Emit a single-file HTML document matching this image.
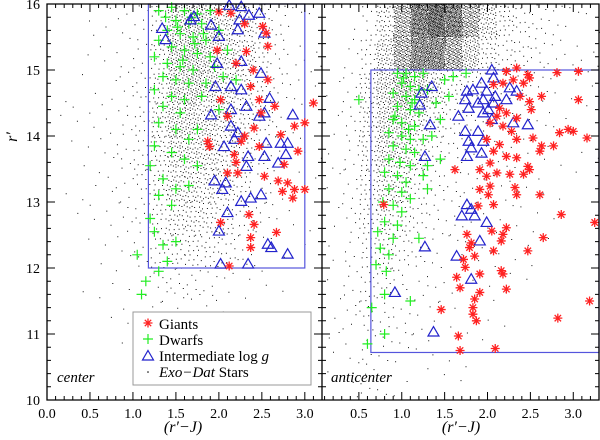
<!DOCTYPE html>
<html><head><meta charset="utf-8"><style>
html,body{margin:0;padding:0;background:#fff;}
svg{display:block;font-family:"Liberation Serif",serif;}
</style></head><body>
<svg id="chart" width="600" height="440" viewBox="0 0 600 440" xmlns="http://www.w3.org/2000/svg">
<g id="dots"></g>
<g id="boxes"></g>
<g id="dwarfs"></g>
<g id="inter"></g>
<g id="giants"></g>
<g id="axes"></g>
<text x="0" y="0" transform="translate(17,137) rotate(-90)" font-size="16" font-style="italic" text-anchor="middle">r′</text>
<text x="183" y="432" font-size="16" font-style="italic" text-anchor="middle">(r′−J)</text>
<text x="461" y="432" font-size="16" font-style="italic" text-anchor="middle">(r′−J)</text>
<text x="57" y="382" font-size="15" font-style="italic">center</text>
<text x="331" y="382" font-size="15" font-style="italic">anticenter</text>
<g>
<rect x="133" y="312" width="178" height="73" fill="#fff" stroke="#999" stroke-width="1"/>
<g><g id="lg"></g><text x="159" y="329" font-size="15">Giants</text></g>
<g><g id="ld"></g><text x="159" y="345" font-size="15">Dwarfs</text></g>
<g><g id="li"></g><text x="159" y="361" font-size="15">Intermediate log <tspan font-style="italic">g</tspan></text></g>
<g><circle cx="148" cy="372" r="0.8" fill="#000"/><text x="159" y="377" font-size="15"><tspan font-style="italic">Exo−Dat</tspan> Stars</text></g>
</g>
</svg>
<script>
// ---- data ----
const leftGiantsX=[2.00,2.14,2.51,2.55,2.57,2.32,1.98,2.57,2.37,2.47,2.02,3.10,2.65,2.49,3.00,2.88,2.41,2.72,1.87,1.89,2.26,2.47,2.92,2.18,2.76,2.10,2.22,2.53,2.69,2.80,2.88,3.00,2.74,2.86,2.35,2.41,2.02,2.67,2.37,2.37,2.12,2.30,2.20,2.40,2.10,2.30,2.20];
const leftGiantsY=[15.88,15.86,15.66,15.56,15.36,15.28,15.30,14.85,14.75,14.55,14.55,14.50,14.45,14.35,14.20,14.15,14.12,14.02,13.92,13.84,13.92,13.84,13.77,13.72,13.57,13.44,13.44,13.39,13.32,13.29,13.19,13.19,13.16,13.06,12.81,12.66,12.69,12.54,12.46,12.31,12.03,15.70,15.10,15.00,14.30,14.00,13.60];
const leftInterX=[1.34,1.38,1.71,1.67,1.91,2.00,2.24,2.22,2.12,2.26,2.47,2.35,2.53,1.98,2.26,2.49,1.96,2.14,2.26,1.91,2.14,2.32,2.47,2.53,2.86,2.59,2.14,2.22,2.18,2.55,2.72,2.80,2.78,2.06,2.34,2.53,2.69,2.32,1.95,2.08,2.04,2.26,2.37,2.49,2.10,2.00,2.57,2.61,2.80,2.02,2.34];
const leftInterY=[15.63,15.46,15.81,15.76,15.68,15.51,15.76,15.61,15.98,15.96,15.86,15.83,15.56,15.10,15.13,14.95,14.75,14.75,14.70,14.32,14.40,14.45,14.30,14.35,14.32,14.57,14.15,14.05,13.95,13.89,13.89,13.89,13.72,13.84,13.69,13.69,13.59,13.54,13.32,13.29,13.19,13.01,13.06,13.11,12.84,12.56,12.36,12.31,12.21,12.06,12.06];
const leftDwarfX=[1.3,1.45,1.6,1.75,1.9,1.5,1.65,1.8,1.4,1.55,1.7,1.85,1.3,1.45,1.6,1.75,1.9,1.25,1.4,1.55,1.7,1.35,1.5,1.65,1.25,1.45,1.6,1.8,1.35,1.55,1.3,1.5,1.65,1.75,1.25,1.45,1.6,1.75,1.2,1.35,1.5,1.65,1.3,1.45,1.2,1.25,1.35,1.5,1.4,1.3,2.0,2.1,2.05,1.95,2.2,1.85,2.0,1.1,1.15,1.05,1.38,1.52,1.68,1.82,1.58,1.72];
const leftDwarfY=[15.9,15.95,15.9,15.85,15.9,15.75,15.7,15.7,15.6,15.55,15.5,15.45,15.45,15.35,15.3,15.25,15.2,15.2,15.1,15.05,15.0,14.9,14.85,14.8,14.7,14.6,14.55,14.6,14.45,14.35,14.2,14.1,13.95,14.1,13.85,13.75,13.65,13.55,13.55,13.35,13.2,13.25,13.1,12.95,12.75,12.55,12.35,12.4,12.1,11.95,15.6,15.3,14.9,15.05,14.85,14.8,14.4,11.6,11.8,12.2,15.8,15.65,15.8,15.55,15.15,15.4];
const rightGiantsX=[2.22,2.34,2.47,2.49,2.81,3.06,2.07,2.18,2.30,2.42,2.63,3.06,2.38,2.49,2.51,2.14,2.11,2.22,2.34,2.03,2.18,2.28,2.84,2.94,3.00,3.16,2.53,2.63,2.61,2.77,2.34,2.14,1.99,2.07,2.22,2.34,2.03,2.47,2.49,2.42,1.62,1.91,1.99,2.11,2.26,1.91,2.03,2.01,2.32,2.34,2.61,2.07,1.89,0.79,2.86,3.25,2.22,2.18,2.05,1.76,2.65,1.81,1.79,1.85,2.07,2.47,2.16,1.72,1.74,1.64,1.68,1.91,2.16,2.18,2.22,1.91,1.85,1.83,1.83,1.87,1.46,2.82,3.19,1.66,1.68,2.09];
const rightGiantsY=[14.98,15.03,14.93,14.88,14.96,14.98,14.78,14.80,14.85,14.80,14.60,14.55,14.60,14.52,14.40,14.42,14.30,14.35,14.27,14.20,14.15,14.07,14.05,14.10,14.07,13.97,13.97,13.85,13.77,13.85,13.95,13.87,13.95,13.77,13.69,13.67,13.59,13.54,13.49,13.42,13.49,13.49,13.39,13.44,13.42,13.19,13.24,13.11,13.22,13.11,13.11,12.96,12.94,12.96,12.81,12.69,12.61,12.51,12.56,12.51,12.46,12.38,12.31,12.18,12.26,12.26,12.41,12.13,12.01,11.86,11.70,11.91,11.96,11.91,11.68,11.63,11.53,11.40,11.30,11.20,11.37,11.24,11.50,10.97,10.75,10.78];
const rightInterX=[2.05,2.07,1.93,1.83,1.99,1.76,2.26,2.34,2.09,2.22,1.95,1.74,1.78,1.89,2.07,1.95,2.05,2.01,2.30,2.47,1.66,1.74,1.78,1.89,1.95,1.81,1.76,1.93,1.35,1.23,1.21,1.33,1.27,1.76,1.81,1.70,1.85,1.99,1.91,1.64,1.81,1.27,0.92,1.37];
const rightInterY=[15.00,14.88,14.80,14.70,14.68,14.68,14.73,14.68,14.60,14.55,14.55,14.55,14.42,14.50,14.50,14.35,14.25,14.40,14.20,14.17,14.30,14.07,13.92,14.07,13.92,13.82,13.69,13.74,14.75,14.65,14.47,14.17,13.69,12.96,12.89,12.79,12.79,12.69,12.41,12.18,11.83,12.32,11.63,11.03];
const rightDwarfX=[0.95,1.05,1.15,1.25,1.0,1.1,1.2,0.9,1.05,1.15,0.95,1.1,1.2,0.9,1.0,1.15,0.85,1.0,1.1,1.25,0.9,1.05,1.15,0.85,0.98,1.1,0.8,0.95,1.05,0.85,1.0,1.1,0.78,0.9,1.0,0.8,0.95,0.72,0.9,1.2,0.75,0.85,0.7,0.82,0.8,0.65,1.1,0.6,0.8,0.5,1.3,1.4,1.45,1.55,1.6,1.75,1.35,1.45,1.3,1.25,1.3,1.5,1.02,1.12,0.92,1.08];
const rightDwarfY=[14.95,14.95,14.9,14.95,14.8,14.75,14.7,14.65,14.6,14.55,14.45,14.4,14.35,14.25,14.2,14.15,14.05,14.0,13.95,13.95,13.85,13.8,13.75,13.65,13.6,13.55,13.45,13.4,13.3,13.2,13.15,13.05,13.0,12.95,12.85,12.7,12.65,12.55,12.45,12.45,12.3,12.2,12.05,11.95,11.6,11.4,11.5,10.85,11.0,14.55,14.7,14.5,14.25,14.6,14.9,14.95,14.0,13.65,13.55,13.4,13.2,14.85,14.88,14.5,14.3,14.1];
// dot density per cell (rows: y 16->10 in 0.5 steps; cols: 0.2 wide)
const leftDensity=[
[0,0,2,2,3,5,16,65,80,70,55,40,22,8,3,1],
[0,0,1,2,3,6,24,80,88,70,55,40,22,8,3,2],
[0,1,2,2,5,10,28,70,80,64,48,35,18,8,3,2],
[1,2,2,3,6,12,32,64,64,56,45,28,16,6,3,2],
[0,1,2,3,6,12,28,56,56,48,35,24,12,5,2,1],
[0,1,2,3,5,11,24,45,45,40,28,18,9,3,2,1],
[0,1,2,2,5,8,18,32,32,28,22,12,6,2,2,1],
[0,0,1,2,3,6,12,20,22,18,12,8,3,2,1,0],
[0,0,1,2,2,3,6,8,8,6,3,2,2,1,0,0],
[0,0,0,1,2,2,3,3,3,2,2,1,0,0,0,0],
[0,0,0,0,1,2,2,2,2,1,0,0,0,0,0,0],
[0,0,0,0,0,1,1,1,0,0,0,0,0,0,0,0]];
const rightDensity=[
[0,1,8,40,150,300,360,300,160,60,25,12,8,5,3,2],
[0,4,16,60,160,260,260,170,80,28,15,12,8,5,3,2],
[2,6,28,70,100,80,45,22,15,12,9,7,5,3,2,2],
[2,7,30,65,70,45,22,12,9,7,6,4,3,2,2,1],
[2,7,28,55,55,30,15,8,6,5,4,3,3,2,1,1],
[2,6,24,45,38,18,9,6,5,4,3,3,2,1,1,0],
[2,6,20,32,24,12,6,5,3,3,3,2,2,1,0,0],
[2,6,16,22,12,8,5,3,3,3,2,2,1,1,0,0],
[2,5,12,12,8,5,3,3,2,2,2,1,0,0,0,0],
[2,5,10,8,5,3,3,2,2,1,1,0,0,0,0,0],
[2,3,6,5,3,2,2,1,1,1,0,0,0,0,0,0],
[1,3,5,3,2,1,1,1,0,0,0,0,0,0,0,0]];
const xTicksLeft=[0.0,0.5,1.0,1.5,2.0,2.5,3.0];
const xTicksRight=[0.5,1.0,1.5,2.0,2.5,3.0];
const yTicks=[10,11,12,13,14,15,16];
const leftBox=[1.18,3.0,12,16];
const rightBox=[0.64,3.3,10.72,15];

// ---- layout ----
const NS="http://www.w3.org/2000/svg";
const TOP=4,BOT=400,L0=47,L1=322,R1=599;
const LX=[0,3.2],RX=[0.07,3.3],YD=[10,16];
function xl(v){return L0+(v-LX[0])/(LX[1]-LX[0])*(L1-L0);}
function xr(v){return L1+(v-RX[0])/(RX[1]-RX[0])*(R1-L1);}
function yy(v){return BOT-(v-YD[0])/(YD[1]-YD[0])*(BOT-TOP);}
function mk(tag,attrs,parent){const e=document.createElementNS(NS,tag);for(const k in attrs)e.setAttribute(k,attrs[k]);parent.appendChild(e);return e;}

// dots (deterministic R2 low-discrepancy placement within each cell)
const dotsG=document.getElementById('dots');
let dpath='';
function dotsFor(dens,xs,x0){
  dens.forEach((row,r)=>{row.forEach((c,k)=>{
    const s1=((r*7+k*13)*0.3819660)%1, s2=((r*11+k*5)*0.2360680)%1;
    for(let i=0;i<c;i++){
      const fx=(s1+(i+1)*0.7548776662)%1, fy=(s2+(i+1)*0.5698402910)%1;
      const vx=x0+k*0.2+fx*0.2, vy=16-r*0.5-fy*0.5;
      const px=xs(vx), py=yy(vy);
      if(px<L0||px>R1||py<TOP||py>BOT) continue;
      dpath+='M'+px.toFixed(1)+' '+py.toFixed(1)+'h1v1h-1z';
    }
  });});
}
dotsFor(leftDensity,xl,0);
dotsFor(rightDensity,xr,0.1);
const dp=mk('path',{d:dpath,fill:'#111'},dotsG);



// boxes
const bg=document.getElementById('boxes');
function box(b,xs,name){const r=mk('rect',{x:xs(b[0]),y:yy(b[3]),width:xs(b[1])-xs(b[0]),height:yy(b[2])-yy(b[3]),fill:'none',stroke:'#5555dd','stroke-width':1.2},bg);

}
box(leftBox,xl,'center-selection-box');
box(rightBox,xr,'anticenter-selection-box');

// markers
function plus(g,x,y){const p=mk('path',{d:`M${x-5} ${y}h10M${x} ${y-5}v10`,stroke:'#22ee22','stroke-width':1.2,fill:'none'},g);

}
function tri(g,x,y){const p=mk('path',{d:`M${x} ${y-5.5}L${x+5.5} ${y+4}L${x-5.5} ${y+4}Z`,stroke:'#2222cc','stroke-width':1.2,fill:'none'},g);

}
function star(g,x,y){const a=4.5,b=3.2;const p=mk('path',{d:`M${x-a} ${y}h${2*a}M${x} ${y-a}v${2*a}M${x-b} ${y-b}l${2*b} ${2*b}M${x-b} ${y+b}l${2*b} ${-2*b}`,stroke:'#ff2222','stroke-width':1.3,fill:'none'},g);

}
const dg=document.getElementById('dwarfs'),ig=document.getElementById('inter'),gg=document.getElementById('giants');
function inside(px,py){return px>=L0&&px<=R1&&py>=TOP&&py<=BOT;}
leftDwarfX.forEach((v,i)=>{const px=xl(v),py=yy(leftDwarfY[i]);if(inside(px,py))plus(dg,px,py);});
rightDwarfX.forEach((v,i)=>{const px=xr(v),py=yy(rightDwarfY[i]);if(inside(px,py))plus(dg,px,py);});
leftInterX.forEach((v,i)=>tri(ig,xl(v),yy(leftInterY[i])));
rightInterX.forEach((v,i)=>tri(ig,xr(v),yy(rightInterY[i])));
leftGiantsX.forEach((v,i)=>star(gg,xl(v),yy(leftGiantsY[i])));
rightGiantsX.forEach((v,i)=>{const px=Math.min(xr(v),R1-2);star(gg,px,yy(rightGiantsY[i]));});
star(document.getElementById('lg'),148,323);
plus(document.getElementById('ld'),148,339);
tri(document.getElementById('li'),148,356);

// axes
const ax=document.getElementById('axes');
const fr=mk('path',{d:`M${L0} ${TOP}H${R1}V${BOT}H${L0}Z M${L1} ${TOP}V${BOT}`,fill:'none',stroke:'#000','stroke-width':1.3},ax);


let t='';
function xticks(xs,a,b){for(let v=Math.ceil(a*10);v<=b*10+0.01;v++){const px=xs(v/10);const len=(v%5===0)?8:4;t+=`M${px} ${BOT}v${-len}M${px} ${TOP}v${len}`;}}
xticks(xl,0,3.2);xticks(xr,0.1,3.3);
for(let v=100;v<=160;v+=2){const py=yy(v/10);const len=(v%10===0)?8:4;
  t+=`M${L0} ${py}h${len}M${L1} ${py}h${-len}M${L1} ${py}h${len}M${R1} ${py}h${-len}`;}
const tk=mk('path',{d:t,stroke:'#000','stroke-width':1,fill:'none'},ax);


xTicksLeft.forEach(v=>{const e=mk('text',{x:xl(v),y:418,'font-size':14,'text-anchor':'middle'},ax);e.textContent=v.toFixed(1);

});
xTicksRight.forEach(v=>{const e=mk('text',{x:xr(v),y:418,'font-size':14,'text-anchor':'middle'},ax);e.textContent=v.toFixed(1);

});
yTicks.forEach(v=>{const e=mk('text',{x:40,y:yy(v)+5,'font-size':14,'text-anchor':'end'},ax);e.textContent=String(v);

});
</script>
</body></html>
